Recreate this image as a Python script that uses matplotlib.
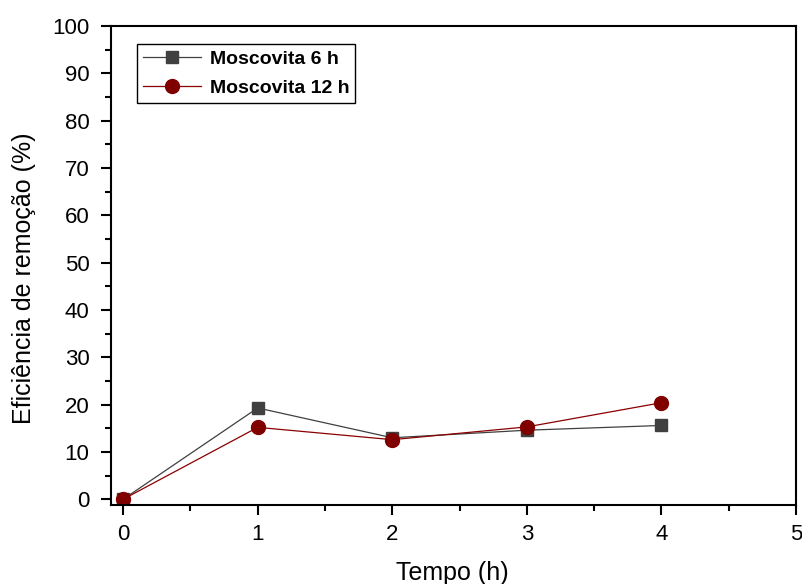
import numpy as np
import matplotlib.pyplot as plt
from matplotlib.ticker import MultipleLocator

plt.rcParams['font.family'] = ['Liberation Sans', 'DejaVu Sans']

# Data
tempo = [0, 1, 2, 3, 4]
mosc_6h = [0.0, 19.3, 13.0, 14.6, 15.6]
mosc_12h = [0.0, 15.2, 12.6, 15.3, 20.4]

fig = plt.figure(figsize=(8.02, 5.84), dpi=100)
ax = fig.add_axes([0.1384, 0.1353, 0.8541, 0.8202])

ax.plot(tempo, mosc_6h, color='#404040', lw=0.9, marker='s', ms=9,
        mfc='#404040', mec='#404040', label='Moscovita 6 h')
ax.plot(tempo, mosc_12h, color='#8b0000', lw=0.9, marker='o', ms=10,
        mfc='#800000', mec='#800000', label='Moscovita 12 h')

ax.set_xlim(-0.09, 5.0)
ax.set_ylim(-1.2, 100)
ax.xaxis.set_major_locator(MultipleLocator(1))
ax.xaxis.set_minor_locator(MultipleLocator(0.5))
ax.yaxis.set_major_locator(MultipleLocator(10))
ax.yaxis.set_minor_locator(MultipleLocator(5))
ax.tick_params(which='both', direction='out', width=1.5, labelsize=16)
ax.tick_params(which='major', length=7.5)
ax.tick_params(axis='x', which='major', pad=6)
ax.tick_params(axis='y', which='major', pad=8)
ax.tick_params(which='minor', length=4)
for s in ax.spines.values():
    s.set_linewidth(1.5)

ax.set_xlabel('Tempo (h)', fontsize=18)
ax.set_ylabel('Eficiência de remoção (%)', fontsize=18)
ax.xaxis.set_label_coords(0.498, -0.117)
ax.yaxis.set_label_coords(-0.11, 0.474)

leg = ax.legend(loc='upper left', bbox_to_anchor=(0.038, 0.962), fancybox=False,
                edgecolor='black', framealpha=1, prop={'weight': 'bold', 'size': 14},
                handlelength=3.0, handletextpad=0.45, borderpad=0.3,
                labelspacing=0.6, borderaxespad=0)
leg.get_frame().set_linewidth(1.0)

fig.savefig('out.png', dpi=100)
